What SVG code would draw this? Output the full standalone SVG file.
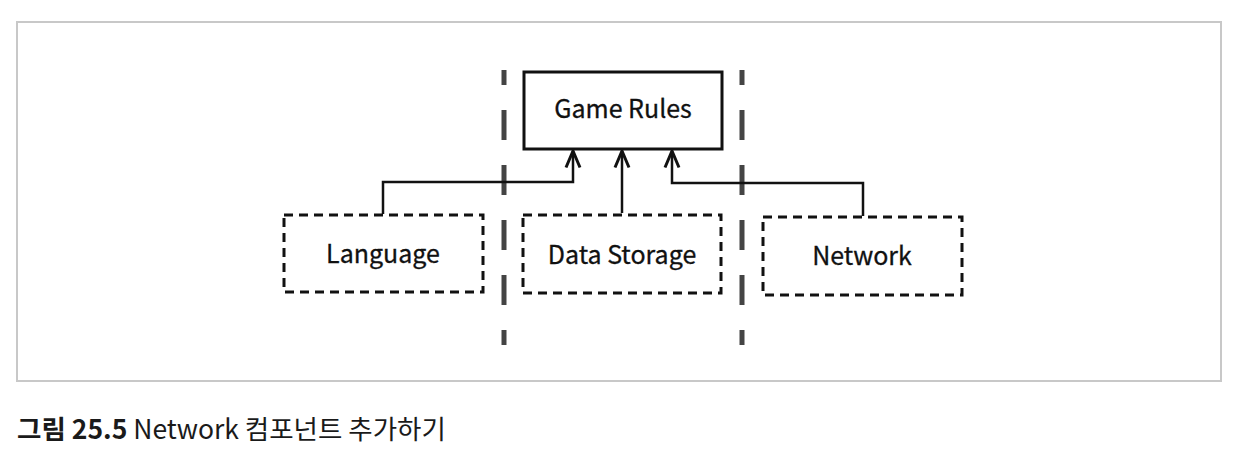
<svg xmlns="http://www.w3.org/2000/svg" width="1236" height="468" viewBox="0 0 1236 468">
<defs>
<style>
.frame{fill:#fff;stroke:#c8c8c8;stroke-width:2}
.solid{fill:#fff;stroke:#111;stroke-width:3}
.dashed{fill:#fff;stroke:#111;stroke-width:3;stroke-dasharray:9 6}
.div{stroke:#444;stroke-width:5;stroke-dasharray:30 25;stroke-dashoffset:15}
.conn{fill:none;stroke:#111;stroke-width:2.5}
.lbl{font-family:"Noto Sans CJK KR","Noto Sans",sans-serif;font-size:25px;font-weight:400;fill:#111;stroke:#111;stroke-width:0.3;text-anchor:middle}
.cap{font-family:"Noto Sans CJK KR","Noto Sans",sans-serif;font-size:26.5px;fill:#1a1a1a}
</style>
<marker id="arr" viewBox="0 0 20 18" refX="18" refY="9" markerWidth="20" markerHeight="18" markerUnits="userSpaceOnUse" orient="auto">
<path d="M1.5,2 L18,9 L1.5,16" fill="none" stroke="#111" stroke-width="3"/>
</marker>
</defs>
<rect width="1236" height="468" fill="#fff"/>
<rect class="frame" x="17" y="22" width="1204" height="359"/>
<g id="dividers">
<line class="div" x1="504" y1="70" x2="504" y2="345"/>
<line class="div" x1="742" y1="70" x2="742" y2="345"/>
</g>
<g id="connectors">
<path class="conn" d="M383,214 V182 H573 V151" marker-end="url(#arr)"/>
<path class="conn" d="M622,213 V151" marker-end="url(#arr)"/>
<path class="conn" d="M863,216 V183 H672 V151" marker-end="url(#arr)"/>
</g>
<g id="game-rules">
<rect class="solid" x="524" y="72" width="198" height="77"/>
<text class="lbl" x="623" y="118">Game Rules</text>
</g>
<g id="language">
<rect class="dashed" x="284" y="215" width="199" height="77"/>
<text class="lbl" x="383" y="263">Language</text>
</g>
<g id="data-storage">
<rect class="dashed" x="523" y="215" width="198" height="78"/>
<text class="lbl" x="622" y="264">Data Storage</text>
</g>
<g id="network">
<rect class="dashed" x="763" y="217" width="199" height="78"/>
<text class="lbl" x="862" y="265">Network</text>
</g>
<text class="cap" x="17" y="439"><tspan font-weight="bold">그림 25.5</tspan> Network 컴포넌트 추가하기</text>
</svg>
